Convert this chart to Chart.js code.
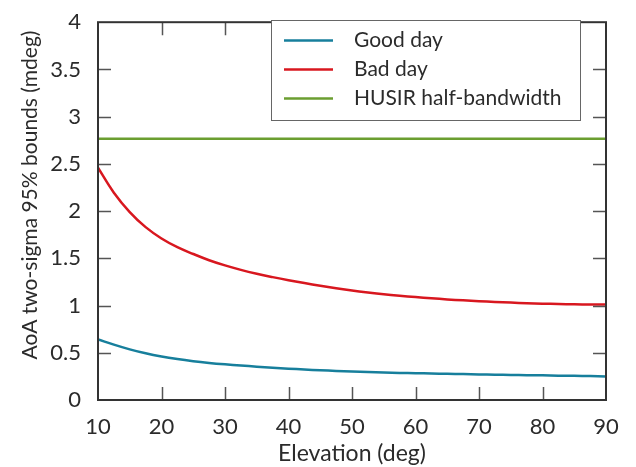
<!DOCTYPE html>
<html>
<head>
<meta charset="utf-8">
<script src="https://cdn.jsdelivr.net/npm/chart.js@4"></script>
<style>
  html, body { margin: 0; padding: 0; background: #fff; }
  #wrap { width: 636px; height: 467px; }
</style>
</head>
<body>
<div id="wrap"><canvas id="aoaChart" width="636" height="467"></canvas></div>
<script>
// elevation (deg) and AoA bounds (mdeg)
const elevation = [10, 12.5, 15, 17.5, 20, 22.5, 25, 27.5, 30, 32.5, 35, 37.5, 40, 42.5, 45, 47.5, 50,
    52.5, 55, 57.5, 60, 62.5, 65, 67.5, 70, 72.5, 75, 77.5, 80, 82.5, 85, 87.5, 90];
const goodDay = [0.642, 0.586, 0.536, 0.494, 0.46, 0.433, 0.411, 0.393, 0.378, 0.365, 0.353, 0.342, 0.332,
    0.323, 0.315, 0.308, 0.301, 0.296, 0.291, 0.287, 0.284, 0.28, 0.277, 0.274, 0.271, 0.268, 0.266,
    0.263, 0.261, 0.258, 0.256, 0.253, 0.25];
const badDay = [2.46, 2.195, 1.99, 1.83, 1.71, 1.618, 1.546, 1.48, 1.425, 1.378, 1.337, 1.301, 1.268,
    1.238, 1.21, 1.184, 1.16, 1.139, 1.12, 1.104, 1.09, 1.077, 1.065, 1.055, 1.046, 1.038, 1.031,
    1.025, 1.02, 1.016, 1.013, 1.011, 1.01];
const husirHalfBandwidth = [2.765, 2.765];
const husirElevation = [10, 90];
const yTicks = [0, 0.5, 1, 1.5, 2, 2.5, 3, 3.5, 4];
const xTicks = [10, 20, 30, 40, 50, 60, 70, 80, 90];

const FONT = 'Lato, "Open Sans", sans-serif';
const TEXT = '#2b2b2b';

function toPoints(xs, ys) {
    return xs.map((x, i) => ({ x: x, y: ys[i] }));
}

// frame + inward tick marks on all four sides
const frameTicks = {
    id: 'frameTicks',
    afterDatasetsDraw(chart) {
        const { ctx, chartArea: a, scales } = chart;
        const len = 13;
        ctx.save();
        ctx.strokeStyle = '#555';
        ctx.lineWidth = 1.5;
        ctx.beginPath();
        xTicks.forEach(v => {
            const px = Math.round(scales.x.getPixelForValue(v)) + 0.5;
            if (v === 10 || v === 90) return;
            ctx.moveTo(px, a.bottom); ctx.lineTo(px, a.bottom - len);
            ctx.moveTo(px, a.top); ctx.lineTo(px, a.top + len);
        });
        yTicks.forEach(v => {
            const py = Math.round(scales.y.getPixelForValue(v)) + 0.5;
            if (v === 0 || v === 4) return;
            ctx.moveTo(a.left, py); ctx.lineTo(a.left + len, py);
            ctx.moveTo(a.right, py); ctx.lineTo(a.right - len, py);
        });
        ctx.stroke();
        ctx.strokeStyle = '#333';
        ctx.lineWidth = 2;
        ctx.strokeRect(a.left, a.top, a.right - a.left, a.bottom - a.top);
        ctx.restore();
    }
};

// boxed legend inside the plot (upper right) + y axis title
const boxLegend = {
    id: 'boxLegend',
    afterDraw(chart) {
        const { ctx } = chart;
        const x0 = 271, y0 = 20, w = 309, h = 100;
        ctx.save();
        ctx.fillStyle = '#fff';
        ctx.fillRect(x0, y0, w, h);
        ctx.strokeStyle = '#666';
        ctx.lineWidth = 1;
        ctx.strokeRect(x0 + 0.5, y0 + 0.5, w, h);
        ctx.font = '21px ' + FONT;
        ctx.textBaseline = 'middle';
        chart.data.datasets.forEach((ds, i) => {
            const y = 40.5 + i * 29;
            ctx.strokeStyle = ds.borderColor;
            ctx.lineWidth = 2.5;
            ctx.beginPath();
            ctx.moveTo(284, y); ctx.lineTo(333, y);
            ctx.stroke();
            ctx.fillStyle = TEXT;
            ctx.fillText(ds.label, 354, y);
        });

        // y title sits a bit above the plot's middle in the original
        ctx.translate(30, 195);
        ctx.rotate(-Math.PI / 2);
        ctx.textAlign = 'center';
        ctx.font = '21px ' + FONT;
        ctx.fillText('AoA two-sigma 95% bounds (mdeg)', 0, 0);
        ctx.restore();
    }
};

const chart = new Chart(document.getElementById('aoaChart'), {
    type: 'line',
    data: {
        datasets: [
            { label: 'Good day', data: toPoints(elevation, goodDay), borderColor: '#177f9c' },
            { label: 'Bad day', data: toPoints(elevation, badDay), borderColor: '#d8171f' },
            { label: 'HUSIR half-bandwidth', data: toPoints(husirElevation, husirHalfBandwidth), borderColor: '#6b9e30' }
        ]
    },
    options: {
        responsive: false,
        animation: false,
        devicePixelRatio: 1,
        layout: { padding: { top: 14, right: 30, left: 0, bottom: 0 } },
        elements: {
            line: { borderWidth: 2.5, tension: 0.4 },
            point: { radius: 0 }
        },
        plugins: {
            legend: { display: false },
            tooltip: { enabled: false }
        },
        scales: {
            x: {
                type: 'linear',
                min: 10,
                max: 90,
                grid: { display: false },
                border: { display: false },
                afterBuildTicks: s => { s.ticks = xTicks.map(v => ({ value: v })); },
                ticks: { color: TEXT, font: { family: FONT, size: 22 }, padding: 6, maxRotation: 0, callback: v => String(v) },
                title: { display: true, text: 'Elevation (deg)', color: TEXT, font: { family: FONT, size: 23 }, padding: { top: 0, bottom: 0 } },
                afterFit: s => { s.height = 67; }
            },
            y: {
                type: 'linear',
                min: 0,
                max: 4,
                grid: { display: false },
                border: { display: false },
                afterBuildTicks: s => { s.ticks = yTicks.map(v => ({ value: v })); },
                ticks: { color: TEXT, font: { family: FONT, size: 22 }, padding: 9, callback: v => String(v) },
                afterFit: s => { s.width = 98; }
            }
        }
    },
    plugins: [frameTicks, boxLegend]
});
</script>
</body>
</html>
